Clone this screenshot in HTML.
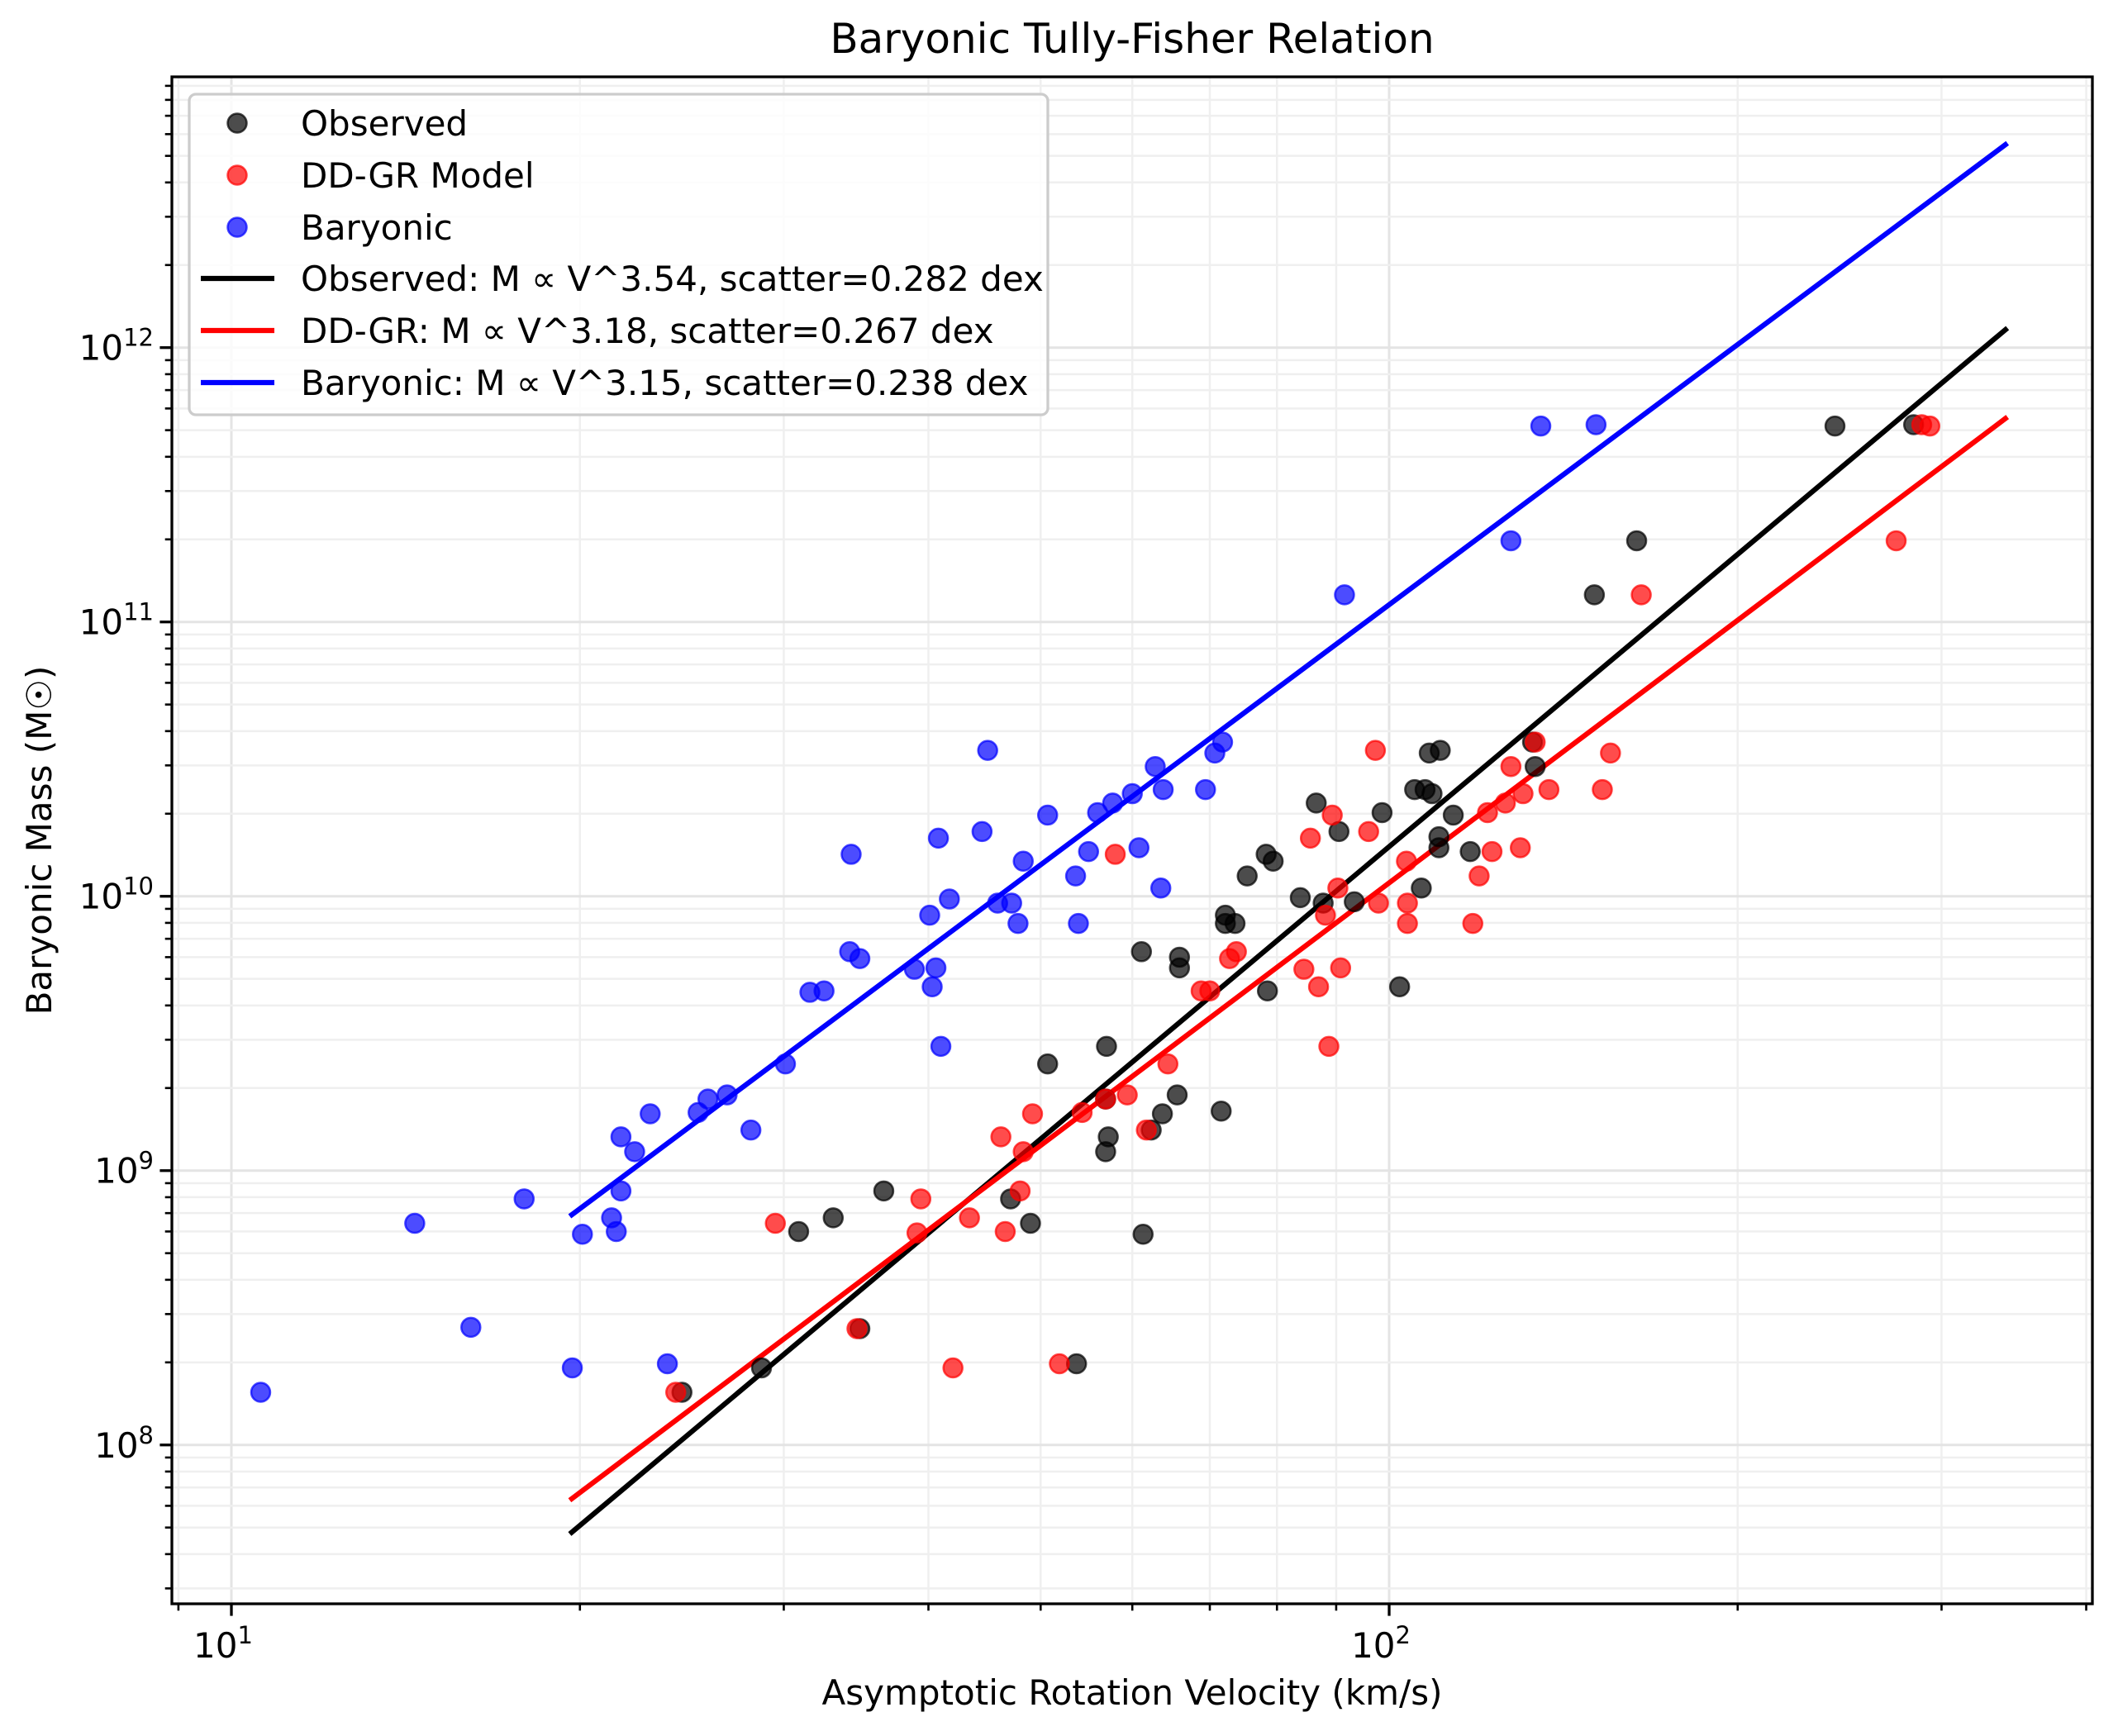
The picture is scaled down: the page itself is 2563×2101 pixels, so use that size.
<!DOCTYPE html>
<html><head><meta charset="utf-8"><style>
html,body{margin:0;padding:0;background:#fff;}
svg{display:block;font-family:"DejaVu Sans","Liberation Sans",sans-serif;}
</style></head><body>
<svg id="chart" width="2563" height="2101" viewBox="0 0 2563 2101" xmlns="http://www.w3.org/2000/svg">
<rect x="0" y="0" width="2563" height="2101" fill="#fff"/>
<g id="grid"></g>
<g id="fits"></g>
<g id="pts"></g>
<g id="axes"></g>
<text x="1370" y="64" text-anchor="middle" font-size="50">Baryonic Tully-Fisher Relation</text>
<text x="1370" y="2063" text-anchor="middle" font-size="42">Asymptotic Rotation Velocity (km/s)</text>
<text x="0" y="0" transform="translate(62,1017) rotate(-90)" text-anchor="middle" font-size="42">Baryonic Mass (M☉)</text>
<g id="legend"></g>
</svg>
<script>
// ---- data ----
const obsV = [24.5,28.7,30.9,33.1,34.9,36.6,47.1,49.0,50.7,53.7,57.0,56.9,57.2,56.9,61.3,61.1,62.3,63.7,65.6,65.9,65.9,71.6,72.2,72.2,73.6,78.5,75.4,78.3,79.4,83.8,86.5,87.7,90.5,93.3,98.6,102.1,105.2,106.6,107.4,108.9,108.3,110.7,110.4,110.4,113.6,117.5,133.0,133.7,150.4,163.6,242.7,283.8];
const obsLogM = [8.192,8.281,8.778,8.828,8.424,8.926,8.897,8.808,9.389,8.296,9.453,9.261,9.123,9.069,8.768,9.798,9.148,9.207,9.276,9.739,9.778,9.217,9.931,9.901,9.901,9.655,10.074,10.153,10.128,9.995,10.340,9.975,10.236,9.980,10.305,9.670,10.389,10.030,10.389,10.374,10.522,10.532,10.217,10.177,10.296,10.163,10.562,10.473,11.099,11.296,11.714,11.719];
const ddV = [24.2,29.5,34.7,39.1,39.4,42.0,43.4,46.2,46.6,48.0,48.3,49.2,51.9,54.3,56.9,58.0,59.4,61.7,64.4,68.8,70.0,72.8,73.8,84.4,85.5,86.9,88.1,88.7,89.3,90.3,90.8,96.0,97.3,97.9,103.5,103.7,103.7,118.1,119.6,121.6,122.7,126.0,127.4,129.8,130.5,133.7,137.4,152.8,155.3,165.1,274.1,288.4,293.1];
const ddLogM = [8.192,8.808,8.424,8.773,8.897,8.281,8.828,9.123,8.778,8.926,9.069,9.207,8.296,9.212,9.261,10.153,9.276,9.148,9.389,9.655,9.655,9.773,9.798,9.734,10.212,9.670,9.931,9.453,10.296,10.030,9.739,10.236,10.532,9.975,10.128,9.975,9.901,9.901,10.074,10.305,10.163,10.340,10.473,10.177,10.374,10.562,10.389,10.389,10.522,11.099,11.296,11.719,11.714];
const barV = [10.6,14.4,16.1,17.9,19.7,20.1,21.3,21.5,21.7,21.7,22.3,23.0,23.8,25.3,25.8,26.8,28.1,30.1,31.6,32.5,34.2,34.3,34.9,38.9,40.1,40.3,40.6,40.8,41.0,41.7,44.5,45.0,45.9,47.2,47.8,48.3,50.7,53.6,53.9,55.0,56.0,57.7,60.0,60.8,62.8,63.5,63.8,69.4,70.7,71.8,91.5,127.4,135.2,150.9];
const barLogM = [8.192,8.808,8.429,8.897,8.281,8.768,8.828,8.778,8.926,9.123,9.069,9.207,8.296,9.212,9.261,9.276,9.148,9.389,9.650,9.655,9.798,10.153,9.773,9.734,9.931,9.670,9.739,10.212,9.453,9.990,10.236,10.532,9.975,9.975,9.901,10.128,10.296,10.074,9.901,10.163,10.305,10.340,10.374,10.177,10.473,10.030,10.389,10.389,10.522,10.562,11.099,11.296,11.714,11.719];
const fitSlopes = [3.54, 3.18, 3.15];
const fitIntercepts = [6.641, 6.869, 7.913]; // log10 M at V = 10 km/s
const fitVRange = [19.6, 342];
const xTickLabels = ["1","2"];
const yTickLabels = ["8","9","10","11","12"];
const legendLabels = ["Observed","DD-GR Model","Baryonic","Observed: M \u221d V^3.54, scatter=0.282 dex","DD-GR: M \u221d V^3.18, scatter=0.267 dex","Baryonic: M \u221d V^3.15, scatter=0.238 dex"];

// ---- axes ----
const L=208,R=2532,T=93,B=1941;
const xLogMin=0.9486,xLogMax=2.6074,yLogMin=7.421,yLogMax=12.987;
const xs = v => L + (Math.log10(v)-xLogMin)/(xLogMax-xLogMin)*(R-L);
const ys = lm => B - (lm-yLogMin)/(yLogMax-yLogMin)*(B-T);
const NS="http://www.w3.org/2000/svg";
function mk(tag,attrs,parent){const e=document.createElementNS(NS,tag);for(const k in attrs)e.setAttribute(k,attrs[k]);parent.appendChild(e);return e;}
const grid=document.getElementById('grid'),axes=document.getElementById('axes');

// x grid & ticks
for(let d=0;d<=2;d++){for(let m=1;m<=9;m++){const lv=d+Math.log10(m);if(lv<xLogMin||lv>xLogMax)continue;const x=xs(Math.pow(10,lv));
 const gl=mk('line',{x1:x,x2:x,y1:T,y2:B,stroke:m===1?'#e4e4e4':'#efefef','stroke-width':m===1?3:2.5},grid);
 
 const tk=mk('line',{x1:x,x2:x,y1:B,y2:B+(m===1?14.6:8.3),stroke:'#000','stroke-width':m===1?3.3:2.6},axes);
 
 if(m===1){const t=mk('text',{x:x-10,y:B+65,'text-anchor':'middle','font-size':42},axes);t.textContent='10';
  const s=mk('tspan',{dy:-17,'font-size':29},t);s.textContent=xTickLabels[d-1];
  }
}}
// y grid & ticks
for(let d=7;d<=12;d++){for(let m=1;m<=9;m++){const lv=d+Math.log10(m);if(lv<yLogMin||lv>yLogMax)continue;const y=ys(lv);
 const gl=mk('line',{x1:L,x2:R,y1:y,y2:y,stroke:m===1?'#e4e4e4':'#efefef','stroke-width':m===1?3:2.5},grid);
 
 const tk=mk('line',{x1:L,x2:L-(m===1?14.6:8.3),y1:y,y2:y,stroke:'#000','stroke-width':m===1?3.3:2.6},axes);
 
 if(m===1){const t=mk('text',{x:L-22,y:y+15,'text-anchor':'end','font-size':42},axes);
  const a=mk('tspan',{},t);a.textContent='10';const s=mk('tspan',{dy:-17,'font-size':29},t);s.textContent=yTickLabels[d-8];
  }
}}
const frame=mk('rect',{x:L,y:T,width:R-L,height:B-T,fill:'none',stroke:'#000','stroke-width':3.3},axes);


// fits
const fits=document.getElementById('fits');
const fitColors=['#000000','#ff0000','#0000ff'];
const fitNames=['observed-fit-line','ddgr-fit-line','baryonic-fit-line'];
for(let i=0;i<3;i++){const lv0=Math.log10(fitVRange[0]),lv1=Math.log10(fitVRange[1]);
 const ln=mk('line',{x1:xs(fitVRange[0]),y1:ys(fitIntercepts[i]+fitSlopes[i]*(lv0-1)),x2:xs(fitVRange[1]),y2:ys(fitIntercepts[i]+fitSlopes[i]*(lv1-1)),stroke:fitColors[i],'stroke-width':6.2},fits);
 }

// points
const pts=document.getElementById('pts');
function scatter(V,LM,fill,stroke,name){for(let i=0;i<V.length;i++){
 const c=mk('circle',{cx:xs(V[i]),cy:ys(LM[i]),r:11.5,fill:fill,'fill-opacity':0.7,stroke:stroke,'stroke-opacity':0.7,'stroke-width':2.5},pts);
 }}
scatter(obsV,obsLogM,'#000','#000','observed-point');
scatter(ddV,ddLogM,'#ff0000','#ff0000','ddgr-point');
scatter(barV,barLogM,'#0000ff','#0000ff','baryonic-point');

// legend
const lg=document.getElementById('legend');
const box=mk('rect',{x:229,y:114,width:1039,height:388,rx:8,fill:'#fff','fill-opacity':0.8,stroke:'#cccccc','stroke-width':3.3},lg);

const rowY=[149,212,275,337,400,463];
const lc=['#000','#ff0000','#0000ff'];
for(let i=0;i<6;i++){
 if(i<3){const c=mk('circle',{cx:287,cy:rowY[i],r:11.5,fill:lc[i],'fill-opacity':0.7,stroke:lc[i],'stroke-opacity':0.7,'stroke-width':2.5},lg);
  }
 else{const l=mk('line',{x1:243,x2:332,y1:rowY[i],y2:rowY[i],stroke:fitColors[i-3],'stroke-width':6.2},lg);
  }
 const t=mk('text',{x:364,y:rowY[i]+15,'font-size':42},lg);t.textContent=legendLabels[i];
 
}
</script>
</body></html>
